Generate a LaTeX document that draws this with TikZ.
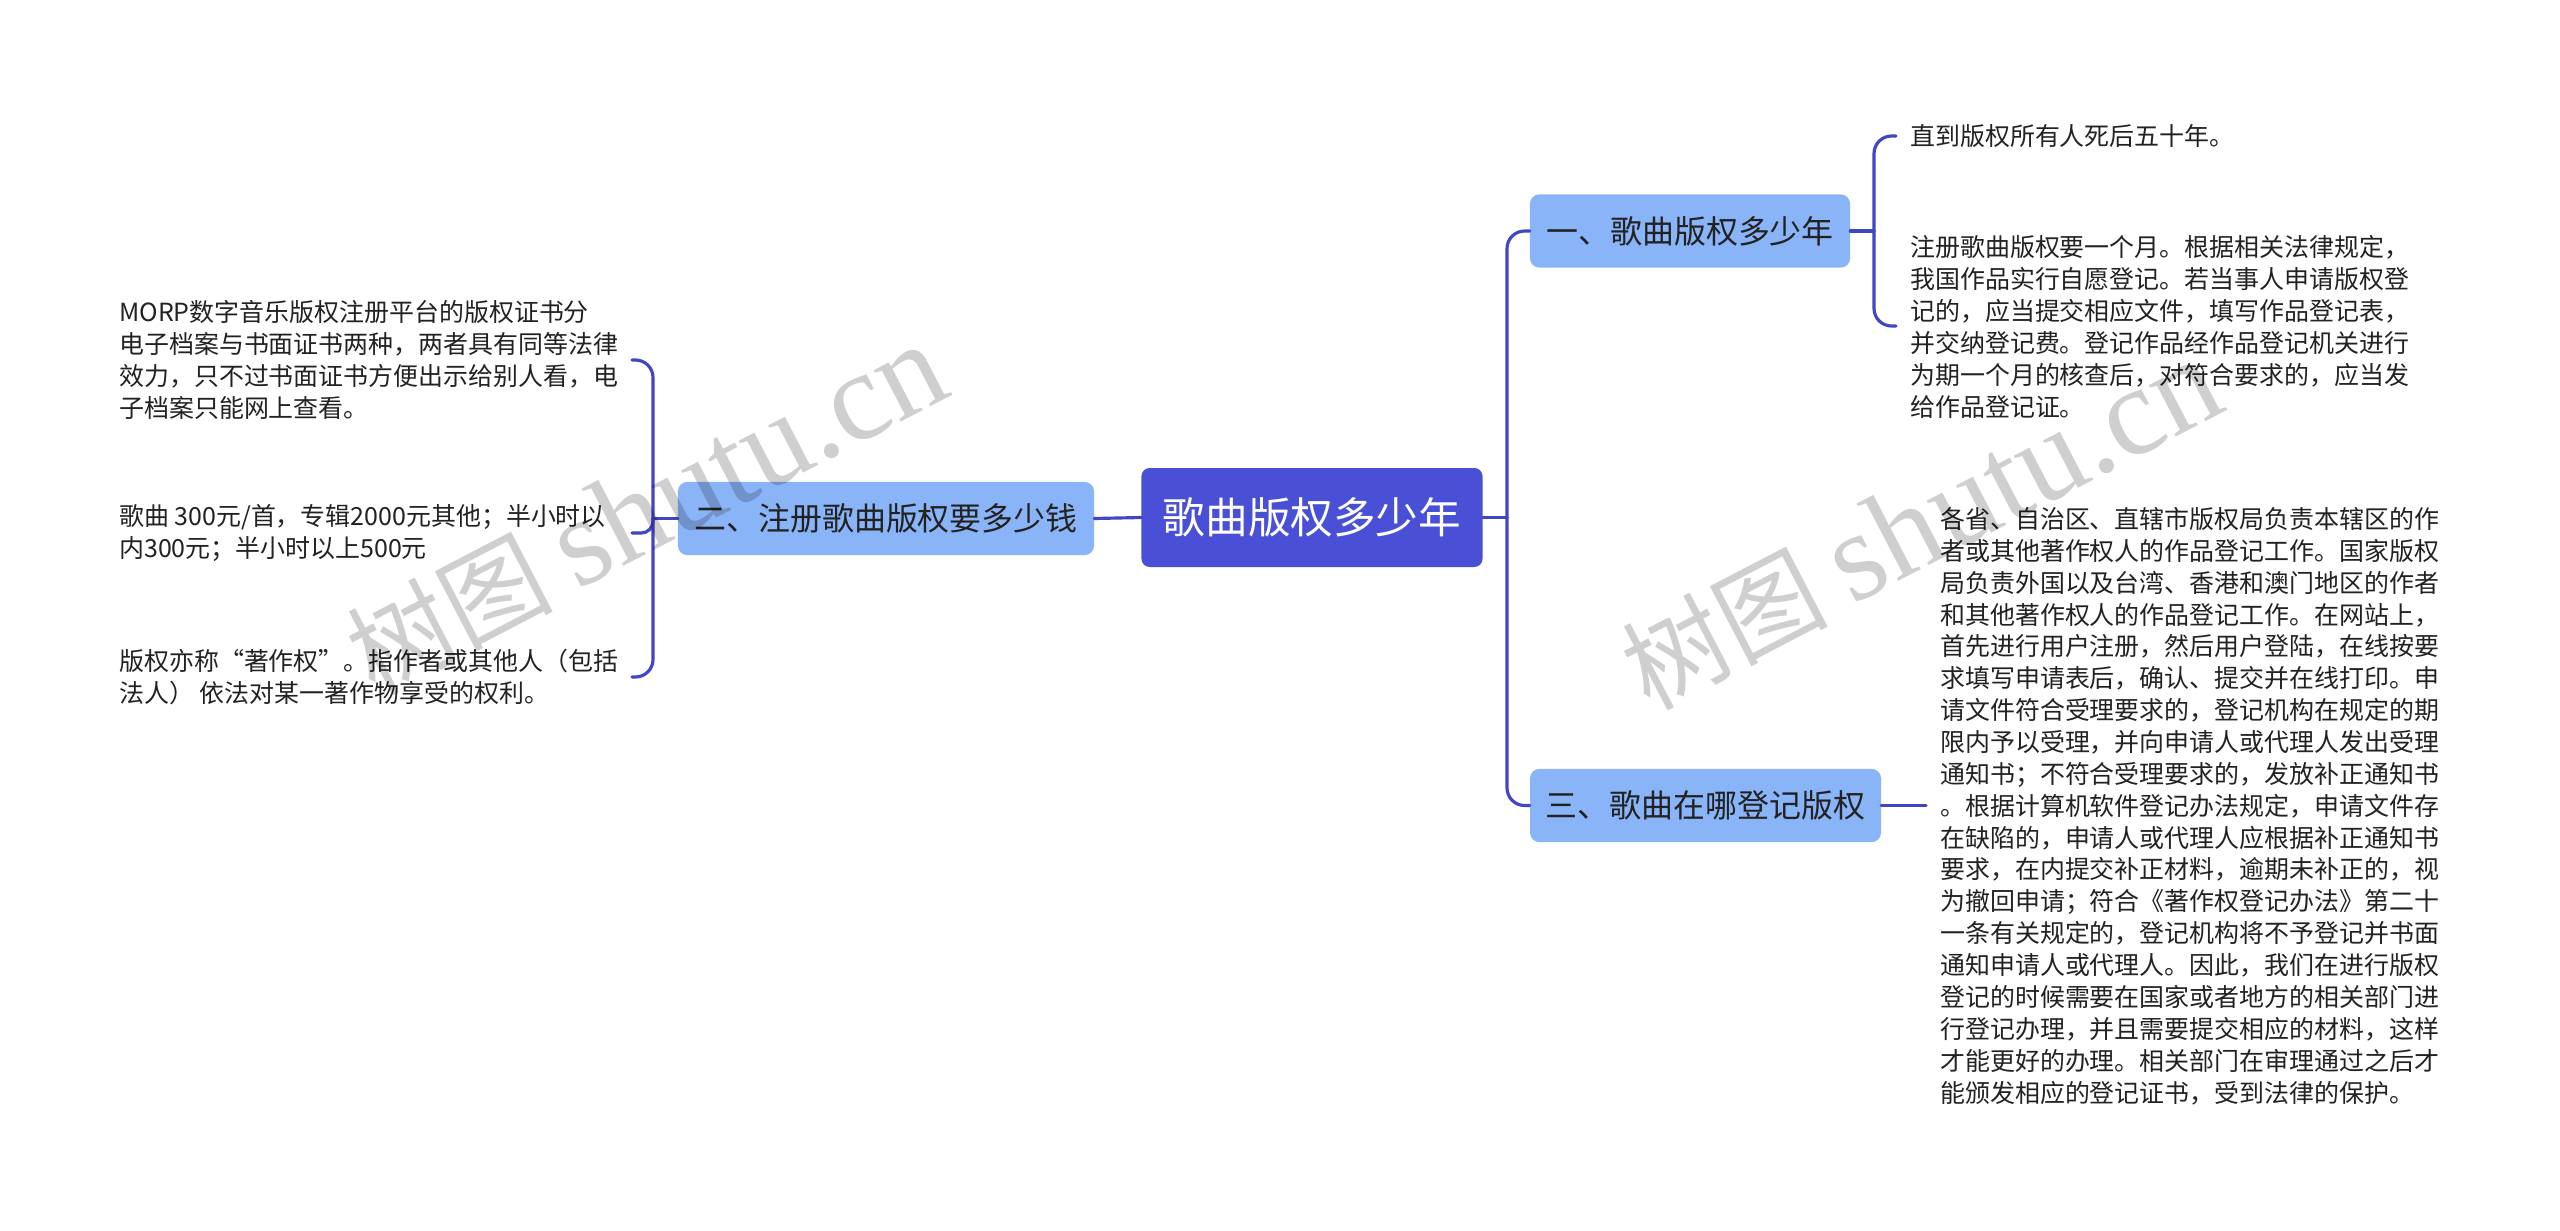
\documentclass[tikz,border=0pt]{standalone}
\usepackage{fontspec}
\setmainfont{Noto Sans CJK SC}
\newfontfamily\wmlatin{Liberation Serif}
\definecolor{centerfill}{RGB}{74,80,214}
\definecolor{branchfill}{RGB}{138,180,248}
\definecolor{linkcol}{RGB}{64,70,196}
\definecolor{txt}{RGB}{34,34,34}
\begin{document}
\begin{tikzpicture}[x=0.03cm,y=-0.03cm,
  conn/.style={draw=linkcol, line width=2.7pt, line cap=round},
  rconn/.style={conn, rounded corners=15pt},
  centernode/.style={fill=centerfill, rounded corners=7pt, text=white, inner sep=0pt,
    minimum width=291.1pt, minimum height=84.5pt, font=\fontsize{36.4pt}{40pt}\selectfont},
  branchnode/.style={fill=branchfill, rounded corners=8pt, text=txt, inner sep=0pt,
    minimum height=62.5pt, font=\fontsize{27.3pt}{30pt}\selectfont},
  leaf/.style={text=txt, inner sep=0pt, align=left, anchor=west,
    font=\fontsize{21.3pt}{27.2pt}\selectfont},
  wm/.style={text=black, opacity=0.19, rotate=27.5, inner sep=0pt}
]
\useasboundingbox[fill=white] (0,0) rectangle (2560,1230);

% central and branch nodes
\node[centernode] (c) at (1312,517.5) {歌曲版权多少年};
\node[branchnode, minimum width=273.2pt] (b1) at (1690,231) {一、歌曲版权多少年};
\node[branchnode, minimum width=355.1pt] (b2) at (886,518.5) {二、注册歌曲版权要多少钱};
\node[branchnode, minimum width=299.6pt] (b3) at (1705.5,805.5) {三、歌曲在哪登记版权};

% leaves left
\node[leaf] (l1) at (119,360) {MORP数字音乐版权注册平台的版权证书分\\电子档案与书面证书两种，两者具有同等法律\\效力，只不过书面证书方便出示给别人看，电\\子档案只能网上查看。};
\node[leaf] (l2) at (119,533) {歌曲 300元/首，专辑2000元其他；半小时以\\内300元；半小时以上500元};
\node[leaf] (l3) at (119,677) {版权亦称“著作权”。指作者或其他人（包括\\法人） 依法对某一著作物享受的权利。};

% leaves right
\node[leaf] (r1) at (1910,136) {直到版权所有人死后五十年。};
\node[leaf] (r2) at (1910,327) {注册歌曲版权要一个月。根据相关法律规定，\\我国作品实行自愿登记。若当事人申请版权登\\记的，应当提交相应文件，填写作品登记表，\\并交纳登记费。登记作品经作品登记机关进行\\为期一个月的核查后，对符合要求的，应当发\\给作品登记证。};
\node[leaf] (r3) at (1940,806) {各省、自治区、直辖市版权局负责本辖区的作\\者或其他著作权人的作品登记工作。国家版权\\局负责外国以及台湾、香港和澳门地区的作者\\和其他著作权人的作品登记工作。在网站上，\\首先进行用户注册，然后用户登陆，在线按要\\求填写申请表后，确认、提交并在线打印。申\\请文件符合受理要求的，登记机构在规定的期\\限内予以受理，并向申请人或代理人发出受理\\通知书；不符合受理要求的，发放补正通知书\\。根据计算机软件登记办法规定，申请文件存\\在缺陷的，申请人或代理人应根据补正通知书\\要求，在内提交补正材料，逾期未补正的，视\\为撤回申请；符合《著作权登记办法》第二十\\一条有关规定的，登记机构将不予登记并书面\\通知申请人或代理人。因此，我们在进行版权\\登记的时候需要在国家或者地方的相关部门进\\行登记办理，并且需要提交相应的材料，这样\\才能更好的办理。相关部门在审理通过之后才\\能颁发相应的登记证书，受到法律的保护。};

% connector coordinates
\coordinate (tr) at (1507,517.5);
\coordinate (lt) at (653,518.5);
\coordinate (l1e) at (632,360);
\coordinate (l2e) at (632,533);
\coordinate (l3e) at (632,677);
\coordinate (rt) at (1874,231);
\coordinate (r1e) at (1896,136);
\coordinate (r2e) at (1896,326);
\coordinate (r3e) at (1926,805.5);

% connectors
\draw[conn] (c.west) -- (b2.east);
\draw[conn] (c.east) -- (tr);
\draw[rconn] (tr) |- (b1.west);
\draw[rconn] (tr) |- (b3.west);

\draw[conn] (b2.west) -- (lt);
\draw[rconn] (l1e) -| (lt) |- (l3e);
\draw[conn, rounded corners=10pt] (lt) |- (l2e);

\draw[conn] (b1.east) -- (rt);
\draw[rconn] (r1e) -| (rt) |- (r2e);
\draw[conn] (b3.east) -- (r3e);

% watermarks
\node[wm] (w1) at (646,510) {\fontsize{88pt}{90pt}\selectfont 树图 {\wmlatin\fontsize{108pt}{108pt}\selectfont shutu.cn}};
\node[wm] (w2) at (1921,525) {\fontsize{88pt}{90pt}\selectfont 树图 {\wmlatin\fontsize{108pt}{108pt}\selectfont shutu.cn}};
\end{tikzpicture}
\end{document}
